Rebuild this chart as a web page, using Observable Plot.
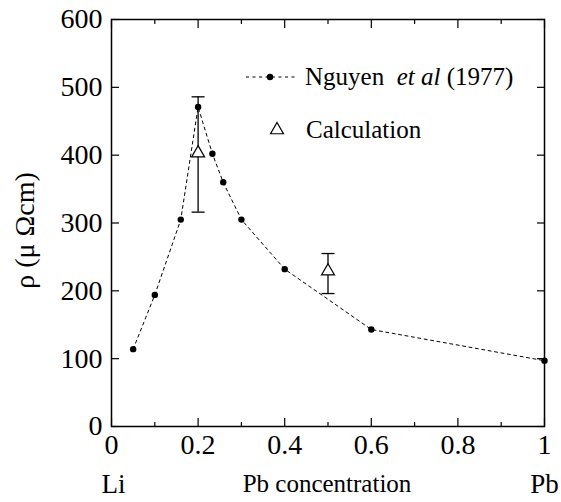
<!DOCTYPE html>
<html><head><meta charset="utf-8">
<script src="https://cdn.jsdelivr.net/npm/d3@7"></script>
<script src="https://cdn.jsdelivr.net/npm/@observablehq/plot@0.6"></script>
<style>
html,body{margin:0;padding:0;background:#fff;}
#wrap{position:relative;width:561px;height:502px;}
#legend{position:absolute;left:0;top:0;pointer-events:none;}
</style></head><body><div id="wrap"></div>
<script>
// Nguyen et al (1977) measured resistivity
const nguyenX = [0.05, 0.1, 0.16, 0.2, 0.233, 0.258, 0.3, 0.4, 0.6, 1.0];
const nguyenRho = [114, 194, 305, 471, 402, 360, 305, 232, 143, 97];
// Calculation with error bars
const calcX = [0.2, 0.5];
const calcRho = [403, 229];
const calcLo = [316, 196];
const calcHi = [486, 255];
// ticks
const xMajor = [0, 0.2, 0.4, 0.6, 0.8, 1];
const xMinor = [0.1, 0.3, 0.5, 0.7, 0.9];
const yTicks = [0, 100, 200, 300, 400, 500, 600];
const xTickLabels = ["0", "0.2", "0.4", "0.6", "0.8", "1"];

const nguyen = nguyenX.map((x, i) => ({x, rho: nguyenRho[i]}));
const calc = calcX.map((x, i) => ({x, rho: calcRho[i], lo: calcLo[i], hi: calcHi[i]}));

const font = "Liberation Serif";
const capSymbol = {draw(ctx) { ctx.moveTo(-6.5, 0); ctx.lineTo(6.5, 0); }};

const chart = Plot.plot({
  width: 561, height: 502,
  marginLeft: 111, marginRight: 17, marginTop: 19, marginBottom: 76,
  style: {background: "#fff", color: "#000", overflow: "visible"},
  x: {domain: [0, 1]},
  y: {domain: [0, 600]},
  marks: [
    // inward ticks
    Plot.axisX({ticks: xMajor, anchor: "bottom", tickSize: -8, fill: "none", label: null, strokeWidth: 1.2}),
    Plot.axisX({ticks: xMinor, anchor: "bottom", tickSize: -4, fill: "none", label: null, strokeWidth: 1.2}),
    Plot.axisX({ticks: xMajor, anchor: "top", tickSize: -8, fill: "none", label: null, strokeWidth: 1.2}),
    Plot.axisX({ticks: xMinor, anchor: "top", tickSize: -4, fill: "none", label: null, strokeWidth: 1.2}),
    Plot.axisY({ticks: yTicks, anchor: "left", tickSize: -8, fill: "none", label: null, strokeWidth: 1.2}),
    Plot.axisY({ticks: yTicks, anchor: "right", tickSize: -8, fill: "none", label: null, strokeWidth: 1.2}),
    // tick labels
    Plot.axisX({ticks: xMajor, anchor: "bottom", tickSize: 0, tickPadding: 8, fontSize: 28, fontFamily: font, label: null,
      tickFormat: (d) => xTickLabels[xMajor.indexOf(d)]}),
    Plot.axisY({ticks: yTicks, anchor: "left", tickSize: 0, tickPadding: 9, fontSize: 28, fontFamily: font, label: null}),
    Plot.frame({strokeWidth: 1.5}),
    // data
    Plot.line(nguyen, {x: "x", y: "rho", stroke: "black", strokeWidth: 1, strokeDasharray: "3,3.5"}),
    Plot.dot(nguyen, {x: "x", y: "rho", r: 3.2, fill: "black"}),
    Plot.ruleX(calc, {x: "x", y1: "lo", y2: "hi", stroke: "black", strokeWidth: 1.3}),
    Plot.dot(calc, {x: "x", y: "hi", symbol: capSymbol, fill: "none", stroke: "black", strokeWidth: 1.3}),
    Plot.dot(calc, {x: "x", y: "lo", symbol: capSymbol, fill: "none", stroke: "black", strokeWidth: 1.3}),
    Plot.dot(calc, {x: "x", y: "rho", symbol: "triangle", r: 4.8, fill: "white", stroke: "black", strokeWidth: 1.2}),
    // axis titles
    Plot.text(["ρ (μ Ωcm)"], {text: d => d, frameAnchor: "left", dx: -78, dy: 7.5, rotate: -90,
      textAnchor: "middle", lineAnchor: "bottom", fontSize: 28, fontFamily: font}),
    Plot.text(["Li"], {text: d => d, frameAnchor: "bottom-left", dx: 2, dy: 66, textAnchor: "middle", lineAnchor: "bottom", fontSize: 27, fontFamily: font}),
    Plot.text(["Pb"], {text: d => d, frameAnchor: "bottom-right", dx: 0, dy: 66, textAnchor: "middle", lineAnchor: "bottom", fontSize: 27, fontFamily: font}),
    Plot.text(["Pb concentration"], {text: d => d, frameAnchor: "bottom", dx: -1, dy: 65, textAnchor: "middle", lineAnchor: "bottom", fontSize: 25, fontFamily: font})
  ]
});
document.getElementById("wrap").appendChild(chart);

// legend overlay
const leg = d3.select("#wrap").append("svg").attr("id", "legend")
  .attr("width", 561).attr("height", 502);
leg.append("line").attr("x1", 246).attr("x2", 297).attr("y1", 77).attr("y2", 77)
  .attr("stroke", "black").attr("stroke-width", 1).attr("stroke-dasharray", "3,3.5");
leg.append("circle").attr("cx", 270).attr("cy", 77).attr("r", 3.2).attr("fill", "black");
const t1 = leg.append("text").attr("x", 305).attr("y", 85).attr("font-size", 25).attr("fill", "black");
t1.append("tspan").text("Nguyen\u00a0\u00a0");
t1.append("tspan").attr("font-style", "italic").text("et al");
t1.append("tspan").text(" (1977)");
leg.append("path").attr("d", d3.symbol(d3.symbolTriangle, Math.PI * 4.8 * 4.8)())
  .attr("transform", "translate(277,130)").attr("fill", "white").attr("stroke", "black").attr("stroke-width", 1.2);
leg.append("text").attr("x", 306).attr("y", 138).attr("font-size", 25).attr("fill", "black").text("Calculation");

// apply serif font directly on every text element
d3.selectAll("#wrap text, #wrap tspan")
  .attr("font-family", font)
  .style("font-family", "'Liberation Serif', serif");
</script></body></html>
